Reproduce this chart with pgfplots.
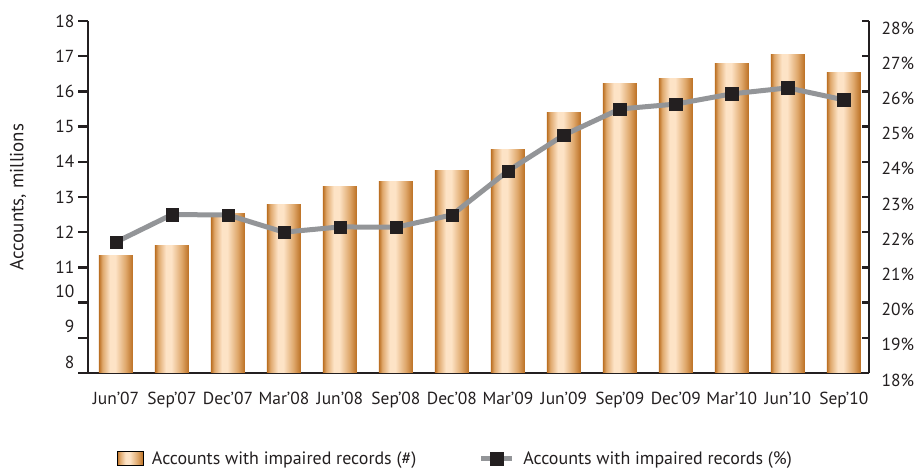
\documentclass[border=0pt]{standalone}
\usepackage{fontspec}
\setmainfont{PT Sans}
\usepackage{pgfplots}
\pgfplotsset{compat=1.18}

\definecolor{txt}{HTML}{231F20}
\definecolor{barEdge}{HTML}{BB6F22}
\definecolor{barMid}{HTML}{DFA86C}
\definecolor{barLight}{HTML}{FDE3C6}
\definecolor{lineGray}{HTML}{939598}

% copper-like cylinder shading across each bar
\pgfdeclarehorizontalshading{copperbar}{100bp}{%
  color(0bp)=(barEdge); color(25bp)=(barEdge); color(30bp)=(barMid);
  color(41bp)=(barLight); color(49bp)=(barLight); color(64bp)=(barMid);
  color(75bp)=(barEdge); color(100bp)=(barEdge)}

\pgfplotsset{
  common/.style={
    at={(88bp,95bp)}, anchor=south west,
    scale only axis, width=781bp, height=352bp,
    xmin=-0.5, xmax=13.45,
    /pgf/number format/assume math mode=true,
    ticklabel style={font=\fontsize{17.5}{20}\selectfont, text=txt},
    axis line style={line width=2.4bp, draw=txt, -},
    tick style={line width=2.4bp, draw=txt},
  },
  % each bar is its own plot so the shading is applied per bar
  copper/.style={ybar, bar width=34bp, bar shift=0pt, draw=none,
    shade, shading=copperbar},
  barlegend/.style={legend image code/.code={%
    \shade[shading=copperbar] (0bp,-7bp) rectangle (26bp,7bp);}},
  linelegend/.style={legend image code/.code={%
    \draw[mark repeat=2, mark phase=2, ##1]
      plot coordinates {(0bp,0bp) (15.5bp,0bp) (31bp,0bp)};}},
}

\begin{document}
\begin{tikzpicture}[x=1bp,y=1bp]
\path[use as bounding box] (0,0) rectangle (917,468);

% left axis: account counts as bars
\begin{axis}[
  common,
  ymin=8, ymax=18,
  axis y line*=left, axis x line*=bottom,
  xtick={0,...,13},
  xticklabels={Jun'07,Sep'07,Dec'07,Mar'08,Jun'08,Sep'08,Dec'08,Mar'09,Jun'09,Sep'09,Dec'09,Mar'10,Jun'10,Sep'10},
  major x tick style={draw=none},
  xticklabel style={yshift=-6bp},
  ytick={11,...,18},
  extra y ticks={8,9,10},
  extra y tick style={yticklabel style={yshift=11bp}},
  tick align=outside, major tick length=10bp,
  ylabel={Accounts, millions},
  ylabel style={at={(axis description cs:-0.0896,0.5)}, anchor=center,
    font=\fontsize{19}{21}\selectfont, text=txt},
]
\addplot[copper] coordinates {(0,11.35)};
\addplot[copper] coordinates {(1,11.61)};
\addplot[copper] coordinates {(2,12.52)};
\addplot[copper] coordinates {(3,12.80)};
\addplot[copper] coordinates {(4,13.31)};
\addplot[copper] coordinates {(5,13.43)};
\addplot[copper] coordinates {(6,13.74)};
\addplot[copper] coordinates {(7,14.36)};
\addplot[copper] coordinates {(8,15.41)};
\addplot[copper] coordinates {(9,16.21)};
\addplot[copper] coordinates {(10,16.38)};
\addplot[copper] coordinates {(11,16.78)};
\addplot[copper] coordinates {(12,17.06)};
\addplot[copper] coordinates {(13,16.55)};
\end{axis}

% right axis: share of accounts as a line
\begin{axis}[
  common,
  ymin=18, ymax=28,
  axis y line*=right, axis x line=none,
  ytick={18,...,28},
  yticklabel={\pgfmathprintnumber{\tick}\%},
  yticklabel style={yshift=-7bp, xshift=9bp},
  tick align=inside, major tick length=7bp,
  legend columns=2,
  legend style={draw=none, fill=none, inner sep=0pt,
    at={(axis description cs:0.037,-0.243)}, anchor=west,
    font=\fontsize{18}{20}\selectfont, text=txt,
    nodes={inner sep=4.5bp},
    /tikz/every odd column/.append style={column sep=4bp},
    /tikz/every even column/.append style={column sep=58bp}},
]
\addlegendimage{barlegend}
\addlegendentry{Accounts with impaired records (\#)}
\addplot[lineGray, line width=5bp, mark=square*, mark size=6.2bp,
  mark options={solid, line width=0.4bp, draw=txt, fill=txt}, linelegend]
  coordinates {(0,21.72) (1,22.50) (2,22.49) (3,22.00) (4,22.15) (5,22.14)
    (6,22.49) (7,23.74) (8,24.76) (9,25.50) (10,25.64) (11,25.93)
    (12,26.10) (13,25.76)};
\addlegendentry{Accounts with impaired records (\%)}
\end{axis}
\end{tikzpicture}
\end{document}
